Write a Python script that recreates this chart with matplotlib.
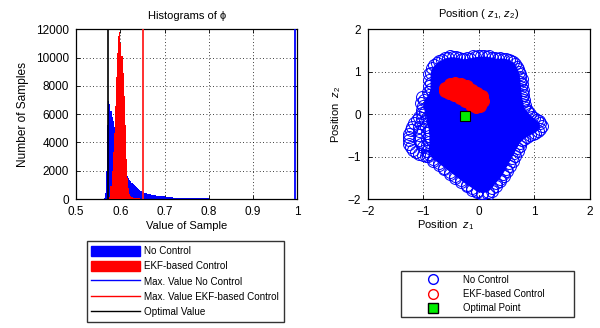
import matplotlib
matplotlib.use("Agg")
import matplotlib.pyplot as plt
from matplotlib.patches import Patch
from matplotlib.lines import Line2D

plt.rcParams["font.family"] = ["Liberation Sans", "DejaVu Sans"]
plt.rcParams["mathtext.fontset"] = "custom"
plt.rcParams["mathtext.rm"] = "Liberation Sans"
plt.rcParams["mathtext.it"] = "Liberation Sans:italic"

# ---- histogram data (bin edges / counts) ----
blue_edges = [0.5625, 0.565, 0.5675, 0.57, 0.5725, 0.575, 0.5775, 0.58, 0.5825, 0.585,
              0.5875, 0.59, 0.5925, 0.595, 0.5975, 0.60, 0.6025, 0.605, 0.6075, 0.61,
              0.6125, 0.615, 0.6175, 0.62, 0.6225, 0.625, 0.6275, 0.63, 0.6325, 0.635,
              0.6375, 0.64, 0.6425, 0.645, 0.6475, 0.65, 0.6525, 0.66, 0.67, 0.68,
              0.69, 0.70, 0.72, 0.74, 0.76, 0.78, 0.80, 0.85, 0.90, 0.95,
              1.00]
blue_counts = [60, 400, 2000, 5200, 6950, 6700, 6200, 5800, 5500, 5100,
               4700, 4300, 3900, 3500, 3200, 2900, 2600, 2350, 2150, 1950,
               1780, 1620, 1480, 1360, 1250, 1150, 1060, 970, 890, 820,
               760, 700, 650, 600, 560, 520, 460, 380, 310, 250,
               200, 150, 110, 80, 60, 45, 30, 18, 10, 6]

red_edges = [0.575, 0.5775, 0.58, 0.5825, 0.585, 0.5875, 0.59, 0.5925, 0.595, 0.5975,
             0.60, 0.6025, 0.605, 0.6075, 0.61, 0.6125, 0.615, 0.6175, 0.62, 0.6225,
             0.625, 0.6275, 0.63, 0.6325, 0.635, 0.6375, 0.64, 0.6425, 0.645, 0.6475,
             0.65]
red_counts = [150, 900, 2000, 3300, 4700, 6600, 8600, 10300, 11500, 11800,
              11000, 10100, 8900, 7300, 5200, 2800, 1500, 800, 380, 220,
              150, 110, 90, 75, 65, 55, 50, 45, 40, 35]

max_no_control = 0.995
max_ekf = 0.651
optimal_value = 0.572

# ---- position data ----
nc_z1 = [-0.87, -0.84, -0.76, -0.66, -0.56, -0.46, -0.36, -0.26, -0.16, -0.06,
         0.04, 0.14, 0.24, 0.34, 0.44, 0.54, 0.62, 0.68, 0.72, 0.74,
         0.75, 0.76, 0.77, 0.78, 0.80, 0.82, 0.88, 0.96, 1.04, 1.10,
         1.10, 1.02, 0.92, 0.82, 0.74, 0.69, 0.64, 0.59, 0.54, 0.49,
         0.44, 0.38, 0.31, 0.24, 0.16, 0.06, -0.04, -0.12, -0.22, -0.32,
         -0.42, -0.52, -0.62, -0.72, -0.82, -0.90, -0.90, -0.89, -0.89, -0.90,
         -0.94, -0.97, -1.00, -0.98, -0.90, -0.87, -0.87]
nc_z2 = [0.96, 1.08, 1.20, 1.28, 1.33, 1.34, 1.32, 1.29, 1.31, 1.34,
         1.36, 1.35, 1.33, 1.30, 1.31, 1.28, 1.22, 1.12, 1.00, 0.88,
         0.76, 0.64, 0.52, 0.40, 0.28, 0.16, 0.04, -0.06, -0.14, -0.22,
         -0.34, -0.44, -0.50, -0.58, -0.68, -0.80, -0.92, -1.04, -1.16, -1.28,
         -1.40, -1.52, -1.62, -1.74, -1.84, -1.86, -1.82, -1.74, -1.66, -1.56,
         -1.46, -1.36, -1.26, -1.16, -1.06, -0.94, -0.80, -0.66, -0.52, -0.38,
         -0.10, 0.04, 0.18, 0.34, 0.46, 0.60, 0.74]

nc2_z1 = [-0.80, -0.71, -0.61, -0.51, -0.41, -0.31, -0.21, -0.11, -0.01, 0.09,
          0.19, 0.29, 0.39, 0.49, 0.58, 0.66, 0.71, 0.75, 0.77, 0.78,
          0.79, 0.80, 0.81, 0.83, 0.86, 0.92, 1.00, 1.08, 1.14, 1.07,
          0.97, 0.87, 0.78, 0.74, 0.70, 0.66, 0.61, 0.56, 0.51, 0.45,
          0.38, 0.31, 0.24, 0.16, 0.06, -0.04, -0.12, -0.22, -0.32, -0.42,
          -0.52, -0.62, -0.72, -0.82, -0.92, -0.94, -0.93, -0.93, -0.93, -0.95,
          -0.97, -1.02, -1.04, -1.02, -0.91, -0.90, -0.90, -0.89]
nc2_z2 = [1.16, 1.26, 1.33, 1.36, 1.35, 1.31, 1.32, 1.36, 1.38, 1.38,
          1.36, 1.33, 1.33, 1.31, 1.26, 1.17, 1.06, 0.94, 0.82, 0.70,
          0.58, 0.46, 0.34, 0.22, 0.10, 0.00, -0.09, -0.17, -0.28, -0.40,
          -0.47, -0.53, -0.62, -0.74, -0.86, -0.98, -1.10, -1.22, -1.34, -1.46,
          -1.57, -1.68, -1.80, -1.88, -1.88, -1.84, -1.78, -1.70, -1.60, -1.50,
          -1.40, -1.30, -1.20, -1.10, -0.98, -0.86, -0.72, -0.58, -0.44, -0.30,
          -0.16, 0.10, 0.26, 0.40, 0.53, 0.67, 0.81, 0.95]

loop_z1 = [-1.02, -1.07, -1.12, -1.16, -1.20, -1.23, -1.25, -1.26, -1.26, -1.25,
           -1.22, -1.18, -1.13, -1.07, -1.01, -0.95]
loop_z2 = [0.02, -0.06, -0.14, -0.22, -0.30, -0.38, -0.46, -0.54, -0.62, -0.70,
           -0.77, -0.84, -0.89, -0.93, -0.96, -0.98]
loop2_z1 = [-1.02, -1.05, -1.07, -1.08, -1.08, -1.07, -1.04, -1.00]
loop2_z2 = [-0.10, -0.20, -0.30, -0.40, -0.50, -0.60, -0.70, -0.78]

ekf_z1 = [-0.60, -0.52, -0.42, -0.32, -0.22, -0.12, -0.03, 0.05, 0.07, 0.03,
          -0.05, -0.14, -0.24, -0.34, -0.44, -0.54, -0.61]
ekf_z2 = [0.62, 0.70, 0.73, 0.72, 0.66, 0.58, 0.50, 0.42, 0.30, 0.20,
          0.17, 0.22, 0.30, 0.37, 0.44, 0.50, 0.55]

opt_z1 = [-0.24]
opt_z2 = [-0.04]

fs = 8
tfs = 8.5
grid_kw = dict(color="k", linestyle=(0, (1, 3)), linewidth=0.6)

fig = plt.figure(figsize=(6, 3.28), dpi=100)

# ---------------- histogram ----------------
ax1 = fig.add_axes([0.127, 0.393, 0.368, 0.518])
ax1.stairs(blue_counts, blue_edges, fill=True, color="blue", zorder=2)
ax1.stairs(red_counts, red_edges, fill=True, color="red", zorder=3)
ax1.axvline(max_no_control, color="blue", lw=1.3, zorder=4)
ax1.axvline(max_ekf, color="#ff2020", lw=1.3, zorder=4)
ax1.axvline(optimal_value, color="k", lw=1.2, zorder=4)
ax1.set_xlim(0.5, 1.0)
ax1.set_ylim(0, 12000)
ax1.set_xticks([0.5, 0.6, 0.7, 0.8, 0.9, 1.0])
ax1.set_xticklabels(["0.5", "0.6", "0.7", "0.8", "0.9", "1"])
ax1.set_yticks([0, 2000, 4000, 6000, 8000, 10000, 12000])
ax1.grid(True, **grid_kw)
ax1.set_axisbelow(True)
ax1.set_title("Histograms of ϕ", fontsize=fs, pad=7)
ax1.set_xlabel("Value of Sample", fontsize=fs, labelpad=2)
ax1.set_ylabel("Number of Samples", fontsize=8.6, labelpad=5)

handles1 = [Patch(color="blue"), Patch(color="red"),
            Line2D([], [], color="blue", lw=1), Line2D([], [], color="red", lw=1),
            Line2D([], [], color="k", lw=1)]
labels1 = ["No Control", "EKF-based Control", "Max. Value No Control",
           "Max. Value EKF-based Control", "Optimal Value"]
fig.legend(handles1, labels1, loc="upper left", bbox_to_anchor=(0.145, 0.265),
           fontsize=7.1, frameon=True, fancybox=False, edgecolor="k",
           handlelength=4.9, handleheight=1.2, handletextpad=0.45,
           labelspacing=0.5, borderpad=0.45, borderaxespad=0)

# ---------------- positions ----------------
ax2 = fig.add_axes([0.613, 0.393, 0.37, 0.518])
mk = dict(marker="o", markersize=8.6, mfc="none", markeredgewidth=0.7, linestyle="none")
ax2.fill(nc_z1, nc_z2, color="blue", lw=0, zorder=2)
ax2.plot(nc_z1, nc_z2, mec="blue", zorder=3, **mk)
ax2.plot(nc2_z1, nc2_z2, mec="blue", zorder=3, **mk)
ax2.plot(loop_z1, loop_z2, mec="blue", zorder=3, **mk)
ax2.plot(loop2_z1, loop2_z2, mec="blue", zorder=3, **mk)
ax2.fill(ekf_z1, ekf_z2, color="red", lw=0, zorder=4)
ax2.plot(ekf_z1, ekf_z2, marker="o", markersize=8.6, mfc="red", mec="red",
         markeredgewidth=0.7, linestyle="none", zorder=5)
ax2.plot(opt_z1, opt_z2, marker="s", markersize=7, mfc="#00ee00", mec="k",
         markeredgewidth=0.8, linestyle="none", zorder=6)
ax2.set_xlim(-2, 2)
ax2.set_ylim(-2, 2)
ax2.set_xticks([-2, -1, 0, 1, 2])
ax2.set_yticks([-2, -1, 0, 1, 2])
ax2.grid(True, **grid_kw)
ax2.set_axisbelow(True)
ax2.set_title(r"Position ( $z_1$, $z_2$)", fontsize=fs, pad=9)
ax2.set_xlabel(r"Position  $z_1$", fontsize=fs)
ax2.xaxis.set_label_coords(0.35, -0.112)
ax2.set_ylabel(r"Position  $z_2$", fontsize=fs, labelpad=3)

handles2 = [Line2D([], [], marker="o", mfc="none", mec="blue", markersize=7, linestyle="none"),
            Line2D([], [], marker="o", mfc="none", mec="red", markersize=7, linestyle="none"),
            Line2D([], [], marker="s", mfc="#00ee00", mec="k", markersize=7, linestyle="none")]
labels2 = ["No Control", "EKF-based Control", "Optimal Point"]
fig.legend(handles2, labels2, loc="upper left", bbox_to_anchor=(0.668, 0.024, 0.288, 0.15),
           mode="expand", fontsize=6.9, frameon=True, fancybox=False, edgecolor="k",
           handlelength=6.0, handletextpad=0.05, labelspacing=0.45,
           borderpad=0.4, borderaxespad=0)

for ax in (ax1, ax2):
    ax.tick_params(direction="in", length=3, width=0.6, top=True, right=True,
                   labelsize=tfs, pad=5)
    for sp in ax.spines.values():
        sp.set_linewidth(0.9)

fig.savefig("out.png", dpi=100)
